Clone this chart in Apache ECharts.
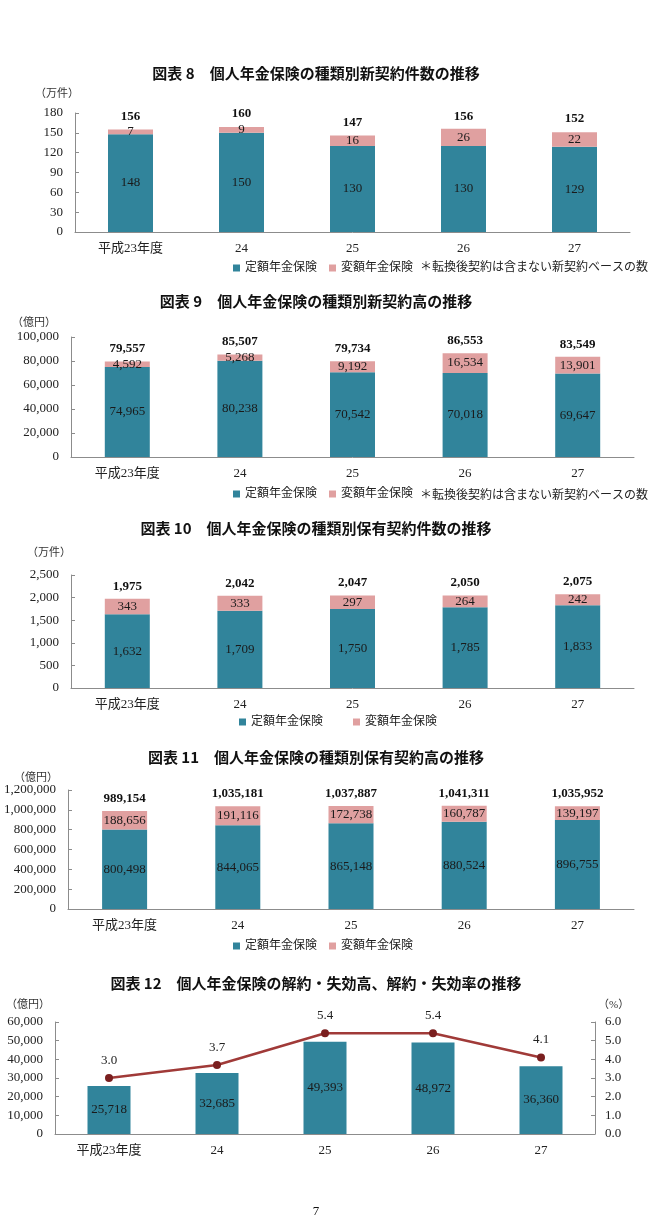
<!DOCTYPE html>
<html><head><meta charset="utf-8">
<script src="https://cdn.jsdelivr.net/npm/echarts@6/dist/echarts.min.js"></script>
<style>html,body{margin:0;padding:0;background:#fff}#c{width:648px;height:1227px}</style>
</head><body><div id="c"></div>
<script>
const categories = ['平成23年度','24','25','26','27'];
const seriesNames = ['定額年金保険','変額年金保険'];
// 図表8 新契約件数 (万件)
const c8Fixed = [148,150,130,130,129];
const c8Variable = [7,9,16,26,22];
const c8Total = [156,160,147,156,152];
// 図表9 新契約高 (億円)
const c9Fixed = [74965,80238,70542,70018,69647];
const c9Variable = [4592,5268,9192,16534,13901];
const c9Total = [79557,85507,79734,86553,83549];
// 図表10 保有契約件数 (万件)
const c10Fixed = [1632,1709,1750,1785,1833];
const c10Variable = [343,333,297,264,242];
const c10Total = [1975,2042,2047,2050,2075];
// 図表11 保有契約高 (億円)
const c11Fixed = [800498,844065,865148,880524,896755];
const c11Variable = [188656,191116,172738,160787,139197];
const c11Total = [989154,1035181,1037887,1041311,1035952];
// 図表12 解約・失効高 (億円), 解約・失効率 (%)
const c12Amount = [25718,32685,49393,48972,36360];
const c12Rate = [3.0,3.7,5.4,5.4,4.1];

const titles = [
  '図表 8　個人年金保険の種類別新契約件数の推移',
  '図表 9　個人年金保険の種類別新契約高の推移',
  '図表 10　個人年金保険の種類別保有契約件数の推移',
  '図表 11　個人年金保険の種類別保有契約高の推移',
  '図表 12　個人年金保険の解約・失効高、解約・失効率の推移'
];
const noteText = '＊転換後契約は含まない新契約ベースの数値';

const TEAL = '#31849b', PINK = '#e0a0a0', LINE = '#a03a38', MARK = '#7a1f1f';
const SERIF = '"Liberation Serif","DejaVu Serif","Noto Sans CJK JP",serif';
const GOTHIC = '"Noto Sans CJK JP",sans-serif';
const fmt = v => Number(v).toLocaleString('en-US');

const chart = echarts.init(document.getElementById('c'), null, {renderer:'canvas'});

const grids = [
  {left:75, top:113, width:555, height:119},
  {left:71, top:337, width:563, height:120},
  {left:71, top:575, width:563, height:113},
  {left:68, top:790, width:566, height:119},
  {left:55, top:1022, width:540, height:112}
];
const yDefs = [
  {max:180, interval:30},
  {max:100000, interval:20000},
  {max:2500, interval:500},
  {max:1200000, interval:200000},
  {max:60000, interval:10000}
];
const stacks = [
  [c8Fixed,c8Variable,c8Total],
  [c9Fixed,c9Variable,c9Total],
  [c10Fixed,c10Variable,c10Total],
  [c11Fixed,c11Variable,c11Total]
];
const titleY = [73,301,528,757,983];
const legendY = [264,490,718,942];

const axisLineStyle = {color:'#8c8c8c', width:1};
const xAxes = grids.map((g,i)=>({
  type:'category', gridIndex:i, data:categories,
  axisLine:{lineStyle:axisLineStyle}, axisTick:{show:false},
  axisLabel:{color:'#222', fontFamily:SERIF, fontSize:13, margin:10}
}));
const yAxes = yDefs.map((d,i)=>({
  type:'value', gridIndex:i, min:0, max:d.max, interval:d.interval,
  axisLine:{show:true, lineStyle:axisLineStyle},
  axisTick:{show:true, inside:true, length:4, lineStyle:axisLineStyle},
  splitLine:{show:false},
  axisLabel:{color:'#222', fontFamily:SERIF, fontSize:13, margin:12, formatter:v=>fmt(v)}
}));
yAxes.push({
  type:'value', gridIndex:4, position:'right', min:0, max:6, interval:1,
  axisLine:{show:true, lineStyle:axisLineStyle},
  axisTick:{show:true, inside:true, length:4, lineStyle:axisLineStyle},
  splitLine:{show:false},
  axisLabel:{color:'#222', fontFamily:SERIF, fontSize:13, margin:10, formatter:v=>v.toFixed(1)}
});

const series = [];
const inLabel = {show:true, position:'inside', color:'#1a1a1a', fontFamily:SERIF, fontSize:13, formatter:p=>fmt(p.value)};
stacks.forEach((s,i)=>{
  series.push({name:seriesNames[0], type:'bar', xAxisIndex:i, yAxisIndex:i, stack:'s'+i, data:s[0], barWidth:45,
    itemStyle:{color:TEAL}, label:inLabel});
  series.push({name:seriesNames[1], type:'bar', xAxisIndex:i, yAxisIndex:i, stack:'s'+i, data:s[1], barWidth:45,
    itemStyle:{color:PINK}, label:inLabel});
  series.push({name:'合計'+i, type:'bar', xAxisIndex:i, yAxisIndex:i, data:s[2], barWidth:45, barGap:'-100%', z:0,
    itemStyle:{color:'rgba(0,0,0,0)'}, silent:true,
    label:{show:true, position:'top', distance:6, color:'#111', fontFamily:SERIF, fontSize:13, fontWeight:'bold', formatter:p=>fmt(p.value)}});
});
series.push({name:'解約・失効高', type:'bar', xAxisIndex:4, yAxisIndex:4, data:c12Amount, barWidth:43,
  itemStyle:{color:TEAL}, label:inLabel});
series.push({name:'解約・失効率', type:'line', xAxisIndex:4, yAxisIndex:5, data:c12Rate,
  symbol:'circle', symbolSize:8, lineStyle:{color:LINE, width:2.5}, itemStyle:{color:MARK},
  label:{show:true, position:'top', distance:7, color:'#222', fontFamily:SERIF, fontSize:13, formatter:p=>p.value.toFixed(1)}});

const legendLeft = [228,228,234,228];
const legends = legendY.map((y,i)=>({
  data:seriesNames, top:y-7, left:legendLeft[i], itemWidth:7, itemHeight:7, itemGap: i===2?30:12,
  icon:'rect', textStyle:{fontFamily:SERIF, fontSize:12, color:'#222'},
  selectedMode:false
}));

const graphics = [];
titles.forEach((t,i)=>{
  graphics.push({type:'text', x:316, y:titleY[i], style:{text:t, font:'bold 15px '+GOTHIC, fill:'#111', textAlign:'center', textVerticalAlign:'middle'}});
});
const units = [
  {t:'（万件）', x:35, y:94},
  {t:'（億円）', x:12, y:323},
  {t:'（万件）', x:27, y:553},
  {t:'（億円）', x:14, y:778},
  {t:'（億円）', x:6, y:1005},
  {t:'（%）', x:598, y:1005}
];
units.forEach(u=>graphics.push({type:'text', x:u.x, y:u.y, style:{text:u.t, font:'11px '+SERIF, fill:'#333', textVerticalAlign:'middle'}}));
[268,496].forEach(y=>graphics.push({type:'text', x:420, y:y, style:{text:noteText, font:'12px '+SERIF, fill:'#222', textVerticalAlign:'middle'}}));
graphics.push({type:'text', x:316, y:1212, style:{text:'7', font:'13px '+SERIF, fill:'#111', textAlign:'center', textVerticalAlign:'middle'}});

chart.setOption({
  animation:false,
  grid:grids,
  xAxis:xAxes,
  yAxis:yAxes,
  legend:legends,
  series:series,
  graphic:graphics
});
</script></body></html>
